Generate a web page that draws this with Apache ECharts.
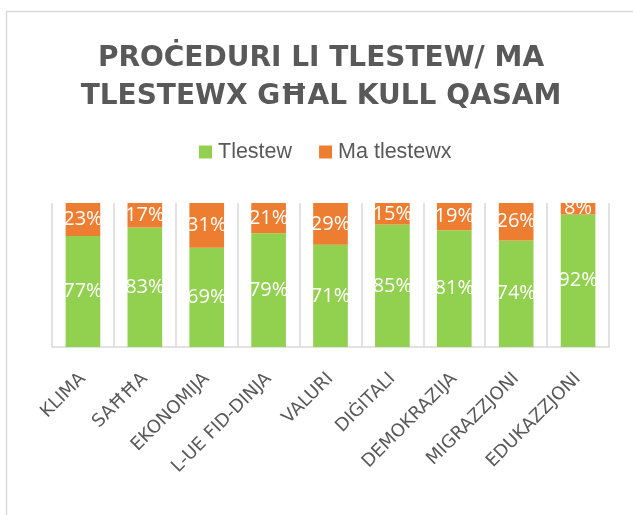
<!DOCTYPE html>
<html>
<head>
<meta charset="utf-8">
<script src="https://cdn.jsdelivr.net/npm/echarts@6/dist/echarts.min.js"></script>
<style>
html,body{margin:0;padding:0;background:#fff;}
#main{width:633px;height:515px;}
</style>
</head>
<body>
<div id="main"></div>
<script>
const categories = ['KLIMA', 'SAĦĦA', 'EKONOMIJA', 'L-UE FID-DINJA', 'VALURI', 'DIĠITALI', 'DEMOKRAZIJA', 'MIGRAZZJONI', 'EDUKAZZJONI'];
const tlestew = [77, 83, 69, 79, 71, 85, 81, 74, 92];
const maTlestewx = [23, 17, 31, 21, 29, 15, 19, 26, 8];
const seriesNames = ['Tlestew', 'Ma tlestewx'];
const titleText = 'PROĊEDURI LI TLESTEW/ MA\nTLESTEWX GĦAL KULL QASAM';

const chart = echarts.init(document.getElementById('main'), null, {renderer: 'canvas'});
const labelStyle = {
  show: true,
  position: 'inside',
  color: '#ffffff',
  fontFamily: 'Open Sans',
  fontSize: 20,
  formatter: p => p.value + '%'
};
chart.setOption({
  animation: false,
  backgroundColor: '#ffffff',
  title: {
    text: titleText,
    left: 316,
    textAlign: 'center',
    top: 34,
    textStyle: {
      fontFamily: 'DejaVu Sans',
      fontWeight: 'bold',
      fontSize: 28,
      lineHeight: 38.5,
      color: '#595959'
    }
  },
  legend: {
    data: seriesNames,
    top: 136,
    left: 194,
    itemWidth: 13,
    itemHeight: 13,
    itemGap: 27,
    icon: 'rect',
    textStyle: {
      fontFamily: 'Liberation Sans',
      fontSize: 21.5,
      color: '#595959',
      padding: [0, 0, 0, 1]
    }
  },
  grid: {
    left: 52,
    right: 24,
    top: 203,
    bottom: 168,
    containLabel: false
  },
  xAxis: {
    type: 'category',
    data: categories,
    boundaryGap: true,
    axisLine: {show: true, lineStyle: {color: '#d9d9d9', width: 1.5}},
    axisTick: {show: true, inside: true, interval: 0, length: 144, lineStyle: {color: '#d9d9d9', width: 1.5}},
    splitLine: {show: false},
    axisLabel: {
      rotate: 45,
      interval: 0,
      margin: 29,
      fontFamily: 'DejaVu Sans',
      fontSize: 18,
      color: '#595959'
    }
  },
  yAxis: {
    type: 'value',
    min: 0,
    max: 100,
    show: false,
    splitLine: {show: false}
  },
  series: [
    {
      name: seriesNames[0],
      type: 'bar',
      stack: 'total',
      data: tlestew,
      barWidth: '56%',
      itemStyle: {color: '#92D050'},
      label: labelStyle
    },
    {
      name: seriesNames[1],
      type: 'bar',
      stack: 'total',
      data: maTlestewx,
      barWidth: '56%',
      itemStyle: {color: '#ED7D31'},
      label: labelStyle
    }
  ],
  graphic: [
    {type: 'line', shape: {x1: 6.5, y1: 11, x2: 6.5, y2: 515}, style: {stroke: '#d9d9d9', lineWidth: 1.5}, silent: true},
    {type: 'line', shape: {x1: 6, y1: 11.5, x2: 633, y2: 11.5}, style: {stroke: '#d9d9d9', lineWidth: 1.5}, silent: true}
  ]
});
</script>
</body>
</html>
